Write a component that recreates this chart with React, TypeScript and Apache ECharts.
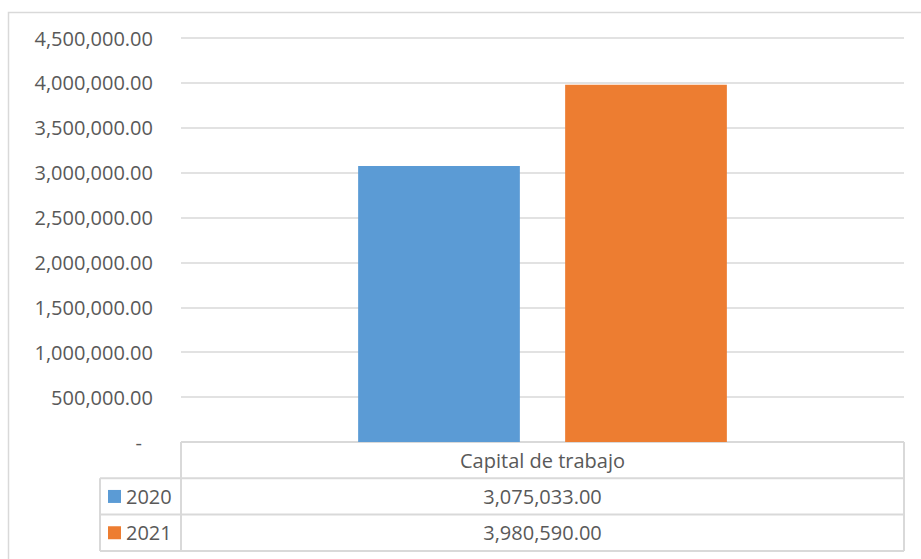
import React, { useEffect, useRef } from "react";
import * as echarts from "echarts";

const categories = ["Capital de trabajo"];
const seriesNames = ["2020", "2021"];
const values2020 = [3075033.0];
const values2021 = [3980590.0];
const seriesColors = ["#5B9BD5", "#ED7D31"];
const yMax = 4500000;
const yInterval = 500000;

const fmt = (v: number) =>
  v.toLocaleString("en-US", { minimumFractionDigits: 2, maximumFractionDigits: 2 });

const FONT = "Open Sans";
const FS = 20;
const TXT = "#595959";
const LINE = "#d9d9d9";

export default function App() {
  const ref = useRef<HTMLDivElement>(null);
  useEffect(() => {
    if (!ref.current) return;
    const chart = echarts.init(ref.current, null, { renderer: "svg" });
    const gl = 181, gr = 904, gb = 442;
    const rowH = 36.3;
    const legX = 100;
    const cx = (gl + gr) / 2;
    const allValues = [values2020, values2021];
    const font = `${FS}px "${FONT}"`;
    const graphic: any[] = [
      {
        type: "rect",
        shape: { x: 8.5, y: 12.5, width: 930, height: 560 },
        style: { fill: "none", stroke: LINE, lineWidth: 1.5 },
        silent: true,
      },
      { type: "line", shape: { x1: gl, y1: gb, x2: gr, y2: gb }, style: { stroke: LINE, lineWidth: 2 } },
      { type: "line", shape: { x1: gl, y1: gb, x2: gl, y2: gb + rowH * 3 }, style: { stroke: LINE, lineWidth: 2 } },
      { type: "line", shape: { x1: gr, y1: gb, x2: gr, y2: gb + rowH * 3 }, style: { stroke: LINE, lineWidth: 2 } },
      { type: "line", shape: { x1: legX, y1: gb + rowH, x2: gr, y2: gb + rowH }, style: { stroke: LINE, lineWidth: 2 } },
      { type: "line", shape: { x1: legX, y1: gb + rowH * 2, x2: gr, y2: gb + rowH * 2 }, style: { stroke: LINE, lineWidth: 2 } },
      { type: "line", shape: { x1: legX, y1: gb + rowH * 3, x2: gr, y2: gb + rowH * 3 }, style: { stroke: LINE, lineWidth: 2 } },
      { type: "line", shape: { x1: legX, y1: gb + rowH, x2: legX, y2: gb + rowH * 3 }, style: { stroke: LINE, lineWidth: 2 } },
      {
        type: "text",
        x: cx,
        y: gb + rowH / 2,
        style: { text: categories[0], fill: TXT, font, align: "center", verticalAlign: "middle" },
      },
    ];
    seriesNames.forEach((name, i) => {
      const yMid = gb + rowH * (i + 1) + rowH / 2;
      graphic.push(
        { type: "rect", shape: { x: 108, y: yMid - 6.5, width: 13, height: 13 }, style: { fill: seriesColors[i] } },
        {
          type: "text",
          x: 126,
          y: yMid,
          style: { text: name, fill: TXT, font, align: "left", verticalAlign: "middle" },
        },
        {
          type: "text",
          x: cx,
          y: yMid,
          style: { text: fmt(allValues[i][0]), fill: TXT, font, align: "center", verticalAlign: "middle" },
        }
      );
    });

    chart.setOption({
      animation: false,
      grid: { left: gl, right: 921 - gr, top: 38, bottom: 559 - gb, containLabel: false },
      xAxis: {
        type: "category",
        data: categories,
        axisLine: { show: false },
        axisTick: { show: false },
        axisLabel: { show: false },
      },
      yAxis: {
        type: "value",
        min: 0,
        max: yMax,
        interval: yInterval,
        axisLine: { show: false },
        axisTick: { show: false },
        splitLine: { lineStyle: { color: LINE, width: 1.5 } },
        axisLabel: {
          margin: 28,
          color: TXT,
          fontFamily: FONT,
          fontSize: FS,
          formatter: (v: number) => (v === 0 ? "{dash|-}" : fmt(v)),
          rich: { dash: { padding: [0, 11, 0, 0], color: TXT, fontFamily: FONT, fontSize: FS } },
        },
      },
      series: seriesNames.map((name, i) => ({
        name,
        type: "bar",
        data: allValues[i],
        barGap: "28%",
        barCategoryGap: "49%",
        itemStyle: { color: seriesColors[i] },
      })),
      graphic,
    });
    return () => chart.dispose();
  }, []);
  return (
    <div
      ref={ref}
      style={{ position: "fixed", left: 0, top: 0, width: 921, height: 559, background: "#fff" }}
    />
  );
}
